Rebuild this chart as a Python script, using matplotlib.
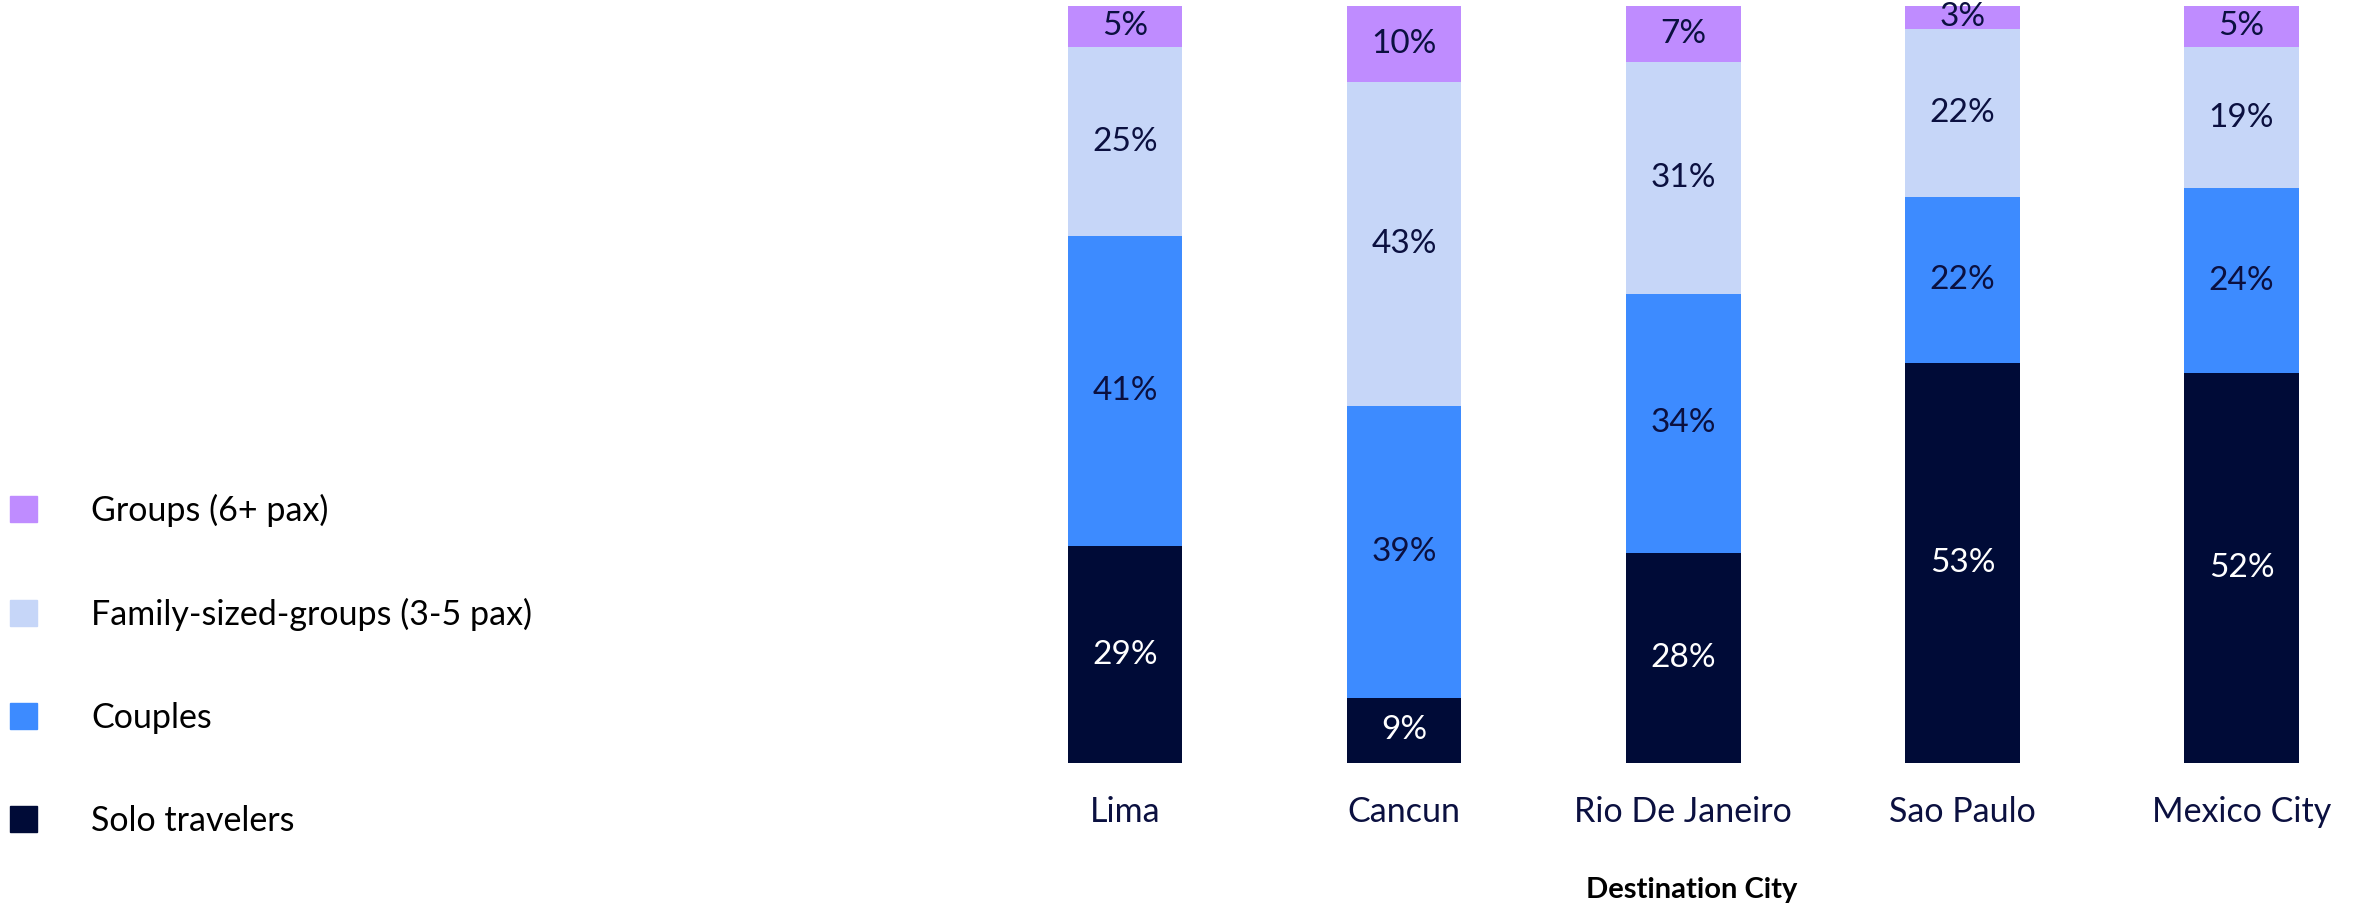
import matplotlib.pyplot as plt
from matplotlib.patches import Patch
import numpy as np

plt.rcParams['font.family'] = ['Lato', 'DejaVu Sans']

# Datos (porcentajes por ciudad)
cities = ["Lima", "Cancun", "Rio De Janeiro", "Sao Paulo", "Mexico City"]
solo = [28.6, 8.6, 27.7, 52.9, 51.5]
couples = [41.0, 38.6, 34.3, 21.9, 24.4]
family = [25.0, 42.7, 30.6, 22.2, 18.7]
groups = [5.4, 10.1, 7.4, 3.0, 5.4]

series_names = ["Solo travelers", "Couples", "Family-sized-groups (3-5 pax)", "Groups (6+ pax)"]
colors = ["#000B37", "#3D8BFF", "#C6D6F8", "#BF8CFF"]
text_colors = ["white", "#0B1040", "#0B1040", "#0B1040"]

fig = plt.figure(figsize=(23.56, 9.08), dpi=100)
ax = fig.add_axes([985.5 / 2356, 145 / 908, 1 - 985.5 / 2356, 757 / 908])

x = np.arange(len(cities))
bottom = np.zeros(len(cities))
for vals, name, col, tcol in zip([solo, couples, family, groups], series_names, colors, text_colors):
    vals = np.array(vals)
    ax.bar(x, vals, width=0.41, bottom=bottom, color=col, label=name)
    for xi, b, v in zip(x, bottom, vals):
        ax.text(xi, b + v / 2, f"{v:.0f}%", ha="center", va="center", fontsize=24, color=tcol)
    bottom += vals

ax.set_xlim(-0.5, 4.41)
ax.set_ylim(0, 100)
ax.set_xticks(x)
ax.set_xticklabels(cities, fontsize=24.5, color="#0B1040")
ax.tick_params(axis="x", length=0, pad=24)
ax.set_yticks([])
for s in ax.spines.values():
    s.set_visible(False)

fig.text(1692 / 2356, 1 - 890 / 908, "Destination City", ha="center", va="center",
         fontsize=21, fontweight="bold", color="black")

# Leyenda a la izquierda, en orden inverso
handles = [Patch(color=c) for c in colors[::-1]]
fig.legend(handles, series_names[::-1], loc="upper left", bbox_to_anchor=(10 / 2356, 1 - 494 / 908),
           frameon=False, fontsize=24.5, handlelength=0.78, handleheight=0.78,
           handletextpad=1.6, labelspacing=2.08, borderpad=0, borderaxespad=0)

plt.savefig("out.png", dpi=100)
plt.close()
